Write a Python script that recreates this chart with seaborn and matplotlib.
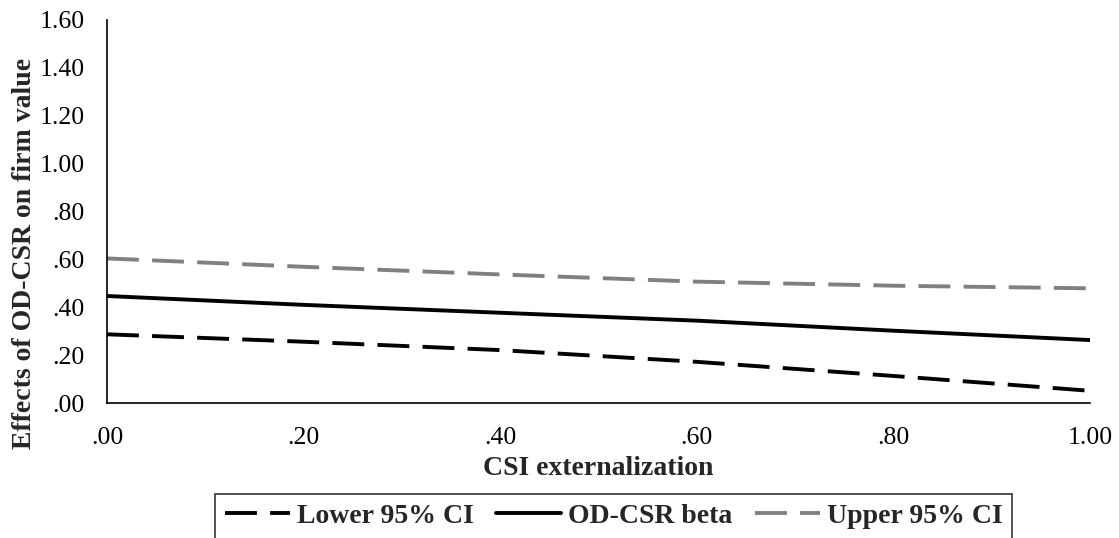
import matplotlib
matplotlib.use("Agg")
import matplotlib.pyplot as plt
import seaborn as sns
import pandas as pd

x_vals = [0.0, 0.2, 0.4, 0.6, 0.8, 1.0]
lower_ci = [0.287, 0.256, 0.221, 0.172, 0.113, 0.051]
beta = [0.447, 0.410, 0.377, 0.344, 0.302, 0.263]
upper_ci = [0.604, 0.569, 0.537, 0.507, 0.490, 0.479]
labels = ["Lower 95% CI", "OD-CSR beta", "Upper 95% CI"]
xticks = [0.0, 0.2, 0.4, 0.6, 0.8, 1.0]
xtick_labels = [".00", ".20", ".40", ".60", ".80", "1.00"]
yticks = [0.0, 0.2, 0.4, 0.6, 0.8, 1.0, 1.2, 1.4, 1.6]
ytick_labels = [".00", ".20", ".40", ".60", ".80", "1.00", "1.20", "1.40", "1.60"]

sns.set_style("white")
plt.rcParams["font.family"] = ["Liberation Serif", "DejaVu Serif"]

fig = plt.figure(figsize=(11.19, 5.38), dpi=100)
ax = fig.add_axes([107 / 1119, 1 - 403 / 538, (1090 - 107) / 1119, (403 - 20) / 538])

df = pd.DataFrame({"x": x_vals, "lower": lower_ci, "beta": beta, "upper": upper_ci})
lw = 2.8
sns.lineplot(data=df, x="x", y="lower", ax=ax, color="black", lw=lw, label=labels[0])
sns.lineplot(data=df, x="x", y="beta", ax=ax, color="black", lw=lw, label=labels[1])
sns.lineplot(data=df, x="x", y="upper", ax=ax, color="#808080", lw=lw, label=labels[2])
ax.lines[0].set_dashes((8.2, 3.4))
ax.lines[2].set_dashes((8.2, 3.4))

ax.set_xlim(0, 1)
ax.set_ylim(0, 1.6)
ax.set_xticks(xticks)
ax.set_xticklabels(xtick_labels)
ax.set_yticks(yticks)
ax.set_yticklabels(ytick_labels)
ax.tick_params(axis="both", direction="out", length=6, width=1.2, color="black",
               labelsize=18.5, labelcolor="black")
ax.tick_params(axis="x", pad=11)
ax.tick_params(axis="y", pad=10)
for s in ["top", "right"]:
    ax.spines[s].set_visible(False)
for s in ["left", "bottom"]:
    ax.spines[s].set_color("black")
    ax.spines[s].set_linewidth(1.2)

ax.set_xlabel("CSI externalization", fontsize=20, fontweight="bold")
ax.set_ylabel("Effects of OD-CSR on firm value", fontsize=20, fontweight="bold")
ax.yaxis.set_label_coords(-0.071, 0.39)
ax.xaxis.set_label_coords(0.5, -0.139)

handles, labs = ax.get_legend_handles_labels()
ax.get_legend().remove()
leg = fig.legend(handles, labs, loc="upper left", bbox_to_anchor=(215 / 1119, 1 - 494 / 538),
                 ncol=3, frameon=True, fancybox=False, edgecolor="black",
                 prop={"weight": "bold", "size": 20}, handlelength=2.35,
                 columnspacing=0.8, handletextpad=0.25, borderpad=0.35,
                 borderaxespad=0)
leg.get_frame().set_linewidth(1.2)

fig.savefig("out.png", dpi=100)
